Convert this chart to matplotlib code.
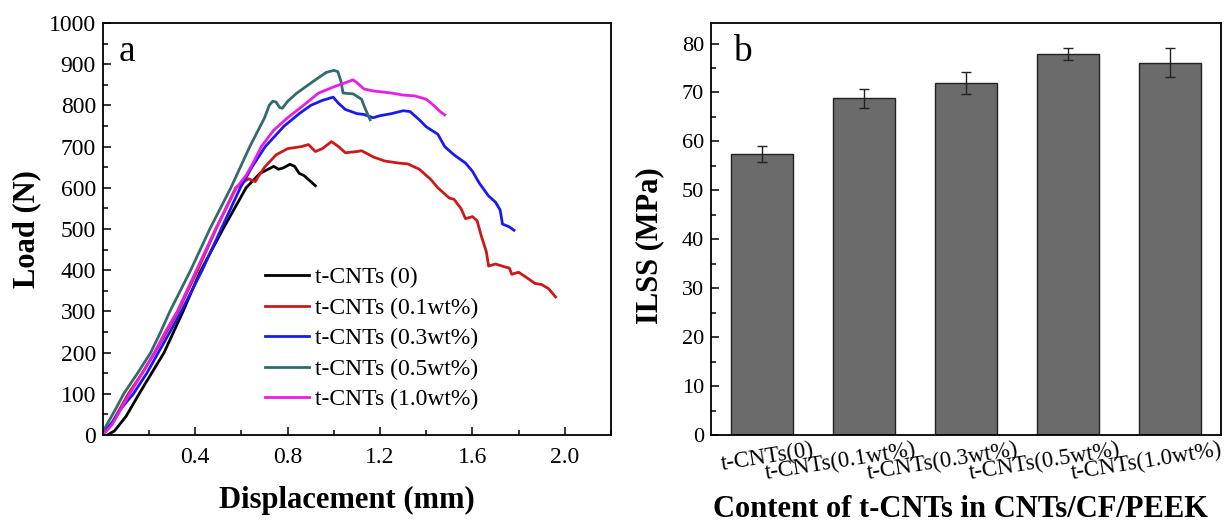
import matplotlib
matplotlib.use('Agg')
import matplotlib.pyplot as plt
from matplotlib.ticker import MultipleLocator
import numpy as np

plt.rcParams['font.family'] = ['Liberation Serif', 'DejaVu Serif']

# ---- panel a: load-displacement curves ----
x_0 = [0.02, 0.05, 0.1, 0.157, 0.2, 0.265, 0.347, 0.42, 0.52, 0.62, 0.68, 0.74, 0.76, 0.78, 0.81, 0.83,
       0.85, 0.87, 0.89, 0.92]
y_0 = [0, 10, 45, 100, 140, 200, 300, 395, 500, 600, 635, 652, 645, 648, 657, 652, 635, 630, 620, 605]

x_01 = [0.0, 0.04, 0.08, 0.11, 0.17, 0.225, 0.275, 0.325, 0.41, 0.49, 0.575, 0.63, 0.66, 0.67, 0.70, 0.75,
        0.80, 0.86, 0.89, 0.92, 0.95, 0.99, 1.02, 1.05, 1.10, 1.12, 1.17, 1.22, 1.28, 1.32, 1.37, 1.42,
        1.45, 1.50, 1.52, 1.55, 1.57, 1.60, 1.62, 1.64, 1.66, 1.67, 1.70, 1.74, 1.76, 1.77, 1.80, 1.84,
        1.87, 1.90, 1.93, 1.96]
y_01 = [0, 30, 70, 100, 150, 200, 250, 300, 400, 500, 600, 622, 615, 625, 650, 680, 695, 700, 705, 688,
        695, 712, 700, 685, 688, 690, 675, 665, 660, 658, 645, 620, 600, 575, 572, 550, 525, 530, 520,
        480, 445, 410, 415, 408, 405, 390, 395, 380, 368, 365, 355, 335]

x_03 = [0.0, 0.04, 0.08, 0.132, 0.19, 0.24, 0.29, 0.339, 0.43, 0.512, 0.595, 0.645, 0.703, 0.785, 0.85,
        0.90, 0.95, 0.997, 1.02, 1.05, 1.1, 1.13, 1.17, 1.2, 1.25, 1.3, 1.33, 1.37, 1.4, 1.45, 1.48, 1.52,
        1.57, 1.6, 1.63, 1.67, 1.70, 1.72, 1.73, 1.76, 1.78]
y_03 = [5, 30, 65, 100, 150, 200, 250, 300, 400, 500, 600, 650, 700, 750, 780, 800, 812, 820, 805, 790,
        780, 778, 770, 775, 780, 787, 785, 765, 748, 730, 700, 680, 660, 640, 611, 580, 565, 546, 512,
        505, 497]

x_05 = [0.0, 0.03, 0.06, 0.09, 0.15, 0.207, 0.25, 0.29, 0.38, 0.463, 0.554, 0.636, 0.70, 0.72, 0.735,
        0.75, 0.765, 0.777, 0.80, 0.84, 0.87, 0.92, 0.967, 1.0, 1.017, 1.03, 1.04, 1.06, 1.083, 1.10,
        1.12, 1.13, 1.145, 1.157]
y_05 = [8, 38, 68, 100, 150, 200, 250, 300, 400, 500, 600, 700, 770, 800, 810, 808, 795, 793, 810, 830,
        842, 862, 880, 885, 882, 860, 830, 829, 828, 822, 815, 800, 780, 765]

x_10 = [0.0, 0.04, 0.08, 0.116, 0.17, 0.223, 0.27, 0.322, 0.405, 0.488, 0.578, 0.62, 0.65, 0.686, 0.74,
        0.80, 0.868, 0.934, 1.0, 1.05, 1.083, 1.1, 1.13, 1.17, 1.25, 1.3, 1.35, 1.40, 1.43, 1.46, 1.48]
y_10 = [0, 25, 65, 100, 150, 200, 250, 300, 400, 500, 600, 630, 660, 700, 740, 770, 800, 830, 845, 855,
        862, 855, 840, 835, 830, 825, 823, 815, 801, 785, 777]

curve_labels = ['t-CNTs (0)', 't-CNTs (0.1wt%)', 't-CNTs (0.3wt%)', 't-CNTs (0.5wt%)', 't-CNTs (1.0wt%)']
curve_colors = ['#000000', '#cc1a1a', '#1a1aee', '#336b6b', '#e81ee8']

# ---- panel b: ILSS bars ----
groups = ['t-CNTs(0)', 't-CNTs(0.1wt%)', 't-CNTs(0.3wt%)', 't-CNTs(0.5wt%)', 't-CNTs(1.0wt%)']
ilss = [57.4, 68.8, 71.9, 77.9, 76.1]
ilss_err = [1.6, 2.0, 2.3, 1.2, 3.0]

fig = plt.figure(figsize=(12.25, 5.27), dpi=100)
ax1 = fig.add_axes([0.084, 0.1746, 0.4148, 0.7818])
ax2 = fig.add_axes([0.5804, 0.1746, 0.4163, 0.7818])

xs = [x_0, x_01, x_03, x_05, x_10]
ys = [y_0, y_01, y_03, y_05, y_10]
for xx, yy, lab, col in zip(xs, ys, curve_labels, curve_colors):
    ax1.plot(xx, yy, color=col, lw=2.0, label=lab)

ax1.set_xlim(0, 2.2)
ax1.set_ylim(0, 1000)
ax1.xaxis.set_minor_locator(MultipleLocator(0.2))
ax1.yaxis.set_major_locator(MultipleLocator(100))
ax1.yaxis.set_minor_locator(MultipleLocator(50))
ax1.set_xticks([0.4, 0.8, 1.2, 1.6, 2.0])
ax1.set_xticklabels(['0.4', '0.8', '1.2', '1.6', '2.0'])
ax1.tick_params(which='both', direction='in', labelsize=17, width=1.1)
ax1.tick_params(which='major', length=6)
ax1.tick_params(which='minor', length=3.5)
ax1.tick_params(axis='x', pad=9)
ax1.tick_params(axis='y', pad=5)
for s in ax1.spines.values():
    s.set_linewidth(1.3)

ax1.set_xlabel('Displacement (mm)', fontsize=22, fontweight='bold')
ax1.xaxis.label.set_va('center')
ax1.xaxis.set_label_coords(0.48, -0.158)
ax1.set_ylabel('Load (N)', fontsize=22, fontweight='bold')
ax1.yaxis.label.set_va('center')
ax1.yaxis.set_label_coords(-0.15, 0.5)
ax1.text(0.047, 0.93, 'a', transform=ax1.transAxes, fontsize=27, ha='center', va='center')

ax1.legend(loc='lower left', bbox_to_anchor=(0.319, 0.06), frameon=False, fontsize=17,
           handlelength=1.86, handletextpad=0.25, labelspacing=0.38, borderpad=0, borderaxespad=0)

# panel b
pos = np.arange(len(groups))
ax2.bar(pos, ilss, width=0.6, color='#6b6b6b', edgecolor='#222222', linewidth=1.0,
        yerr=ilss_err, error_kw=dict(ecolor='#222222', elinewidth=1.0, capsize=3.5, capthick=1.0))
ax2.set_xlim(-0.5, 4.5)
ax2.set_ylim(0, 84.2)
ax2.yaxis.set_major_locator(MultipleLocator(10))
ax2.yaxis.set_minor_locator(MultipleLocator(5))
ax2.set_xticks(pos)
ax2.set_xticklabels([])
ax2.tick_params(axis='x', length=0)
# rotated category labels, right end placed a little right of each bar centre
for p, g in zip(pos, groups):
    ax2.annotate(g, xy=(p, 0), xycoords=('data', 'axes fraction'), xytext=(36, -3),
                 textcoords='offset points', ha='right', va='top', rotation=9,
                 rotation_mode='anchor', fontsize=16.5)
ax2.tick_params(axis='y', which='both', direction='in', labelsize=16, width=1.1, pad=5)
ax2.tick_params(axis='y', which='major', length=6)
ax2.tick_params(axis='y', which='minor', length=3.5)
for s in ax2.spines.values():
    s.set_linewidth(1.3)

ax2.set_xlabel('Content of t-CNTs in CNTs/CF/PEEK', fontsize=22, fontweight='bold')
ax2.xaxis.label.set_va('center')
ax2.xaxis.set_label_coords(0.49, -0.18)
ax2.set_ylabel('ILSS (MPa)', fontsize=22, fontweight='bold')
ax2.yaxis.label.set_va('center')
ax2.yaxis.set_label_coords(-0.12, 0.46)
ax2.text(0.061, 0.93, 'b', transform=ax2.transAxes, fontsize=27, ha='center', va='center')

fig.savefig('out.png', dpi=100)
